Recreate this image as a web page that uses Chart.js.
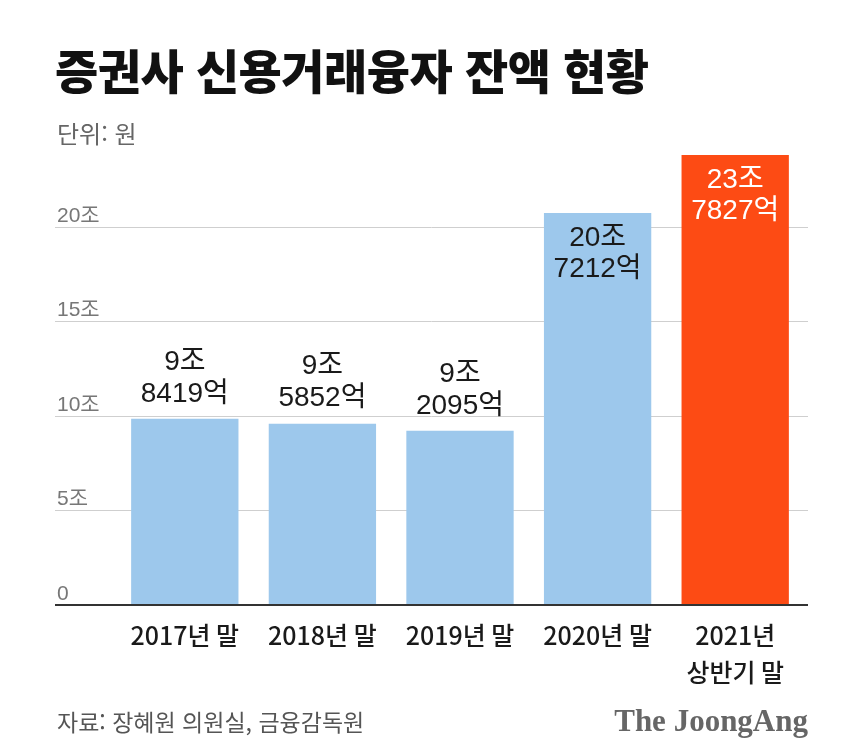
<!DOCTYPE html>
<html lang="ko">
<head>
<meta charset="utf-8">
<title>증권사 신용거래융자 잔액 현황</title>
<script src="https://cdn.jsdelivr.net/npm/chart.js@4.4.1/dist/chart.umd.min.js"></script>
<style>
  body { margin: 0; background: #fff; }
  #wrap { position: relative; width: 850px; height: 746px; font-family: 'Noto Sans CJK KR', sans-serif; overflow: hidden; }
  #chart-box { position: absolute; left: 0; top: 0; width: 850px; height: 746px; }
  .title { position: absolute; left: 55px; top: 45px; font-size: 47px; font-weight: 900; letter-spacing: -0.5px; color: #111; line-height: 1; white-space: nowrap; }
  .unit { position: absolute; left: 57px; top: 121px; font-size: 24px; color: #666; line-height: 1; letter-spacing: 0; }
  .source { position: absolute; left: 57px; top: 710px; font-size: 23px; color: #555; line-height: 1; letter-spacing: 0; white-space: nowrap; }
  .brand { position: absolute; right: 42px; top: 705px; font-family: 'Liberation Serif', serif; font-weight: bold; font-size: 31px; color: #666; line-height: 1; letter-spacing: 0; }
</style>
</head>
<body>
<div id="wrap">
  <div id="chart-box"><canvas id="my-chart"></canvas></div>
  <div class="title">증권사 신용거래융자 잔액 현황</div>
  <div class="unit">단위: 원</div>
  <div class="source">자료: 장혜원 의원실, 금융감독원</div>
  <div class="brand">The JoongAng</div>
</div>
<script>
'use strict';

// ***** DATA *****

let categories = [['2017년 말'], ['2018년 말'], ['2019년 말'], ['2020년 말'], ['2021년', '상반기 말']];
let balances = [9.8419, 9.5852, 9.2095, 20.7212, 23.7827]; // 조 원
let labelJo = ['9조', '9조', '9조', '20조', '23조'];
let labelEok = ['8419억', '5852억', '2095억', '7212억', '7827억'];
let yTicks = [0, 5, 10, 15, 20];
let yTickLabels = ['0', '5조', '10조', '15조', '20조'];

// ***** STYLE *****

const BLUE = '#9dc8ec';
const ORANGE = '#fd4b14';
const LABEL_FONT = "28px 'Liberation Sans', 'Noto Sans CJK KR', sans-serif";
const TICK_FONT = "21px 'Liberation Sans', 'Noto Sans CJK KR', sans-serif";
const GRID_LEFT = 55;

let lastIndex = balances.length - 1;

// ***** PLUGIN: grid lines running past the plot, labels on bars *****

const barDecor = {
    id: 'barDecor',
    beforeDatasetsDraw(chart) {
        const { ctx, chartArea, scales: { y } } = chart;
        ctx.save();
        ctx.font = TICK_FONT;
        ctx.textAlign = 'left';
        ctx.textBaseline = 'alphabetic';
        for (let i = 0; i < yTicks.length; i++) {
            let py = Math.round(y.getPixelForValue(yTicks[i])) + 0.5;
            if (yTicks[i] !== 0) {
                ctx.strokeStyle = '#cfcfcf';
                ctx.lineWidth = 1;
                ctx.beginPath();
                ctx.moveTo(GRID_LEFT, py);
                ctx.lineTo(chartArea.right + 4, py);
                ctx.stroke();
            }
            ctx.fillStyle = '#777';
            ctx.fillText(yTickLabels[i], GRID_LEFT + 2, py - 6);
        }
        ctx.restore();
    },
    afterDatasetsDraw(chart) {
        const { ctx, chartArea } = chart;
        ctx.save();
        // baseline
        ctx.strokeStyle = '#333';
        ctx.lineWidth = 2;
        ctx.beginPath();
        ctx.moveTo(GRID_LEFT, chartArea.bottom);
        ctx.lineTo(chartArea.right + 4, chartArea.bottom);
        ctx.stroke();

        // value labels
        let meta = chart.getDatasetMeta(0);
        ctx.font = LABEL_FONT;
        ctx.textAlign = 'center';
        ctx.textBaseline = 'middle';
        meta.data.forEach((bar, i) => {
            let inside = balances[i] > 18;
            let y1, y2;
            if (inside) {
                y1 = bar.y + 25;
                y2 = bar.y + 56;
            } else {
                y1 = bar.y - 57;
                y2 = bar.y - 25;
            }
            ctx.fillStyle = i === lastIndex ? '#fff' : '#1a1a1a';
            ctx.fillText(labelJo[i], bar.x, y1);
            ctx.fillText(labelEok[i], bar.x, y2);
        });
        ctx.restore();
    }
};

// ***** CHART *****

let ctx = document.getElementById('my-chart');

new Chart(ctx, {
    type: 'bar',
    data: {
        labels: categories,
        datasets: [{
            data: balances,
            backgroundColor: (c) => c.dataIndex === lastIndex ? ORANGE : BLUE,
            borderWidth: 0,
            barPercentage: 0.78,
            categoryPercentage: 1
        }]
    },
    options: {
        responsive: true,
        maintainAspectRatio: false,
        animation: false,
        layout: { padding: { left: 116, right: 46, top: 151, bottom: 41 } },
        plugins: {
            legend: { display: false },
            tooltip: { enabled: false }
        },
        scales: {
            x: {
                grid: { display: false, drawTicks: false },
                border: { display: false },
                ticks: {
                    color: '#1a1a1a',
                    padding: 12,
                    font: { family: "'Noto Sans CJK KR', sans-serif", size: 25, weight: 500, lineHeight: 1.48 }
                },
                afterFit(scale) { scale.height = 100; }
            },
            y: {
                display: false,
                min: 0,
                max: 24
            }
        }
    },
    plugins: [barDecor]
});
</script>
</body>
</html>
